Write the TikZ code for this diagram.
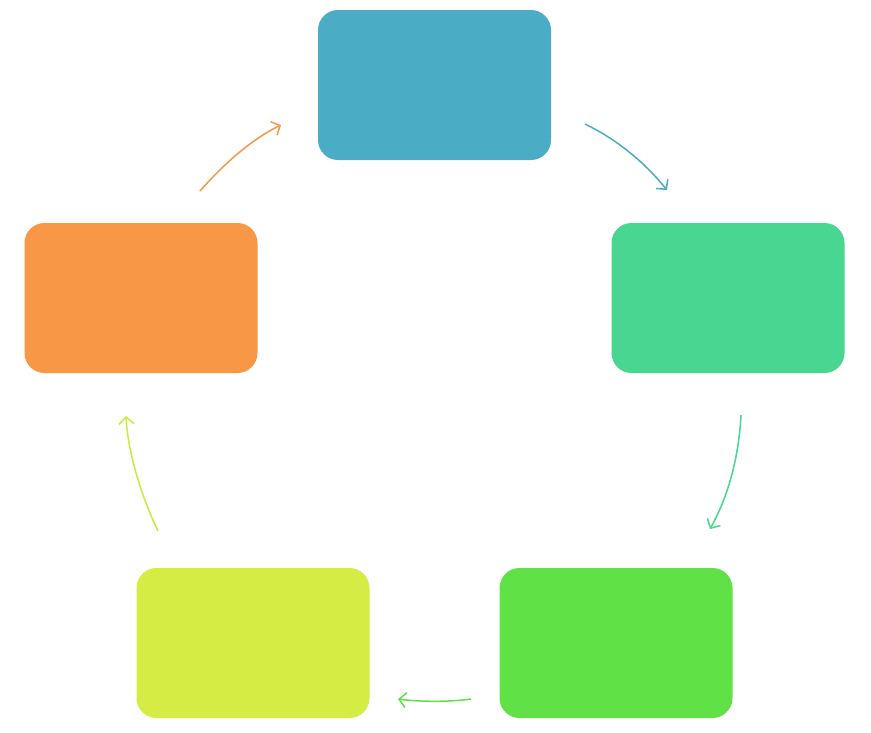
\documentclass[tikz,border=0pt]{standalone}
\usetikzlibrary{arrows.meta}
\definecolor{cTeal}{HTML}{4AACC5}
\definecolor{cMint}{HTML}{48D690}
\definecolor{cGreen}{HTML}{60E247}
\definecolor{cLime}{HTML}{D4EC44}
\definecolor{cLimeA}{HTML}{C6EC3C}
\definecolor{cOrange}{HTML}{F89746}
\begin{document}
\begin{tikzpicture}[x=1pt,y=-1pt,
  box/.style={rectangle,rounded corners=20pt,minimum width=233pt,minimum height=150pt,inner sep=0pt,draw=none},
  conn/.style={line width=1.5pt,-{Straight Barb[length=7pt,width=15pt,line width=1.5pt]}}]
\useasboundingbox[fill=white] (0,0) rectangle (871,732);
\node[box,fill=cTeal] (top) at (434.5,85) {};
\node[box,fill=cMint] (right) at (728,298) {};
\node[box,fill=cGreen] (bright) at (616,643) {};
\node[box,fill=cLime] (bleft) at (253,643) {};
\node[box,fill=cOrange] (left) at (141,298) {};
\coordinate (a1s) at (585,124); \coordinate (a1e) at (667,190);
\coordinate (a2s) at (741,415); \coordinate (a2e) at (710,529);
\coordinate (a3s) at (471,699); \coordinate (a3e) at (398,699);
\coordinate (a4s) at (158,531); \coordinate (a4e) at (126,416);
\coordinate (a5s) at (200,191); \coordinate (a5e) at (281,125);
\draw[conn,cTeal] (a1s) .. controls (618,140) and (645,163) .. (a1e);
\draw[conn,cMint] (a2s) .. controls (739,455) and (729,495) .. (a2e);
\draw[conn,cGreen] (a3s) .. controls (450,702) and (420,702) .. (a3e);
\draw[conn,cLimeA] (a4s) .. controls (143,500) and (128,455) .. (a4e);
\draw[conn,cOrange] (a5s) .. controls (222,166) and (250,140) .. (a5e);
\end{tikzpicture}
\end{document}
